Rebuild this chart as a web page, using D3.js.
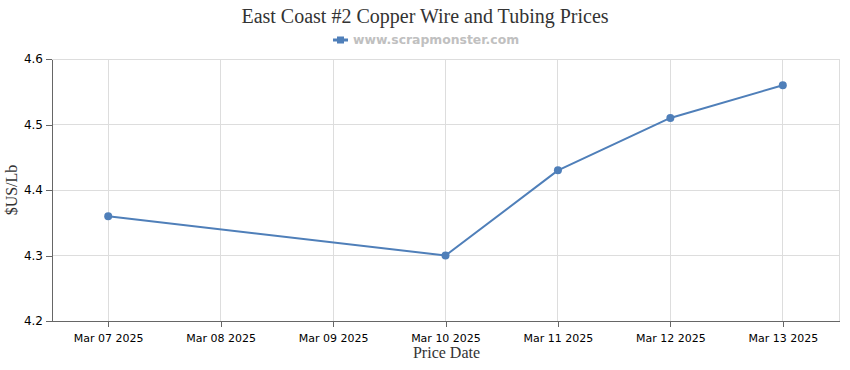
<!DOCTYPE html>
<html>
<head>
<meta charset="utf-8">
<script src="https://cdn.jsdelivr.net/npm/d3@7"></script>
<style>
  body { margin: 0; background: #fff; }
  svg { display: block; }
</style>
</head>
<body>
<svg id="chart"></svg>
<script>
// data
const dates = ['2025-03-07', '2025-03-10', '2025-03-11', '2025-03-12', '2025-03-13'];
const prices = [4.36, 4.30, 4.43, 4.51, 4.56];
const tickDates = ['2025-03-07', '2025-03-08', '2025-03-09', '2025-03-10', '2025-03-11', '2025-03-12', '2025-03-13'];
const yTicks = [4.2, 4.3, 4.4, 4.5, 4.6];
const titleText = 'East Coast #2 Copper Wire and Tubing Prices';
const legendText = 'www.scrapmonster.com';

const width = 850, height = 370;
const margins = { top: 59, bottom: 49, left: 52, right: 11 };
const lineColor = '#4f7fb9';

const parse = d3.utcParse('%Y-%m-%d');
const fmt = d3.utcFormat('%b %d %Y');
const data = dates.map((d, i) => ({ date: parse(d), value: prices[i] }));

const svg = d3.select('#chart').attr('width', width).attr('height', height);

const x = d3.scaleUtc()
  .domain([d3.utcHour.offset(parse(tickDates[0]), -12), d3.utcHour.offset(parse(tickDates[tickDates.length - 1]), 12)])
  .range([margins.left, width - margins.right]);
const y = d3.scaleLinear()
  .domain([4.2, 4.6])
  .range([height - margins.bottom, margins.top]);

// grid
svg.append('g')
  .selectAll('line.h')
  .data(yTicks)
  .join('line')
  .attr('x1', margins.left).attr('x2', width - margins.right)
  .attr('y1', d => y(d)).attr('y2', d => y(d))
  .attr('stroke', '#dddddd').attr('stroke-width', 1)
  .attr('shape-rendering', 'crispEdges');
svg.append('g')
  .selectAll('line.v')
  .data(tickDates.map(parse))
  .join('line')
  .attr('x1', d => x(d)).attr('x2', d => x(d))
  .attr('y1', margins.top).attr('y2', height - margins.bottom)
  .attr('stroke', '#dddddd').attr('stroke-width', 1)
  .attr('shape-rendering', 'crispEdges');
svg.append('line')
  .attr('x1', width - margins.right).attr('x2', width - margins.right)
  .attr('y1', margins.top).attr('y2', height - margins.bottom)
  .attr('stroke', '#dddddd')
  .attr('shape-rendering', 'crispEdges');

// axes
const xAxis = d3.axisBottom(x).tickValues(tickDates.map(parse)).tickFormat(fmt).tickSize(6).tickSizeOuter(0);
const yAxis = d3.axisLeft(y).tickValues(yTicks).tickFormat(d3.format('.1f')).tickSize(6).tickSizeOuter(0);

const gx = svg.append('g')
  .attr('transform', `translate(0,${height - margins.bottom})`)
  .call(xAxis);
const gy = svg.append('g')
  .attr('transform', `translate(${margins.left},0)`)
  .call(yAxis);

[gx, gy].forEach(g => {
  g.selectAll('path, line').attr('stroke', '#666').attr('shape-rendering', 'crispEdges');
  g.selectAll('text')
    .attr('fill', '#000')
    .attr('font-family', 'Tahoma, "DejaVu Sans", sans-serif')
    .attr('font-size', '11px');
});
gx.selectAll('text').attr('dy', '1.05em');
gy.selectAll('text').attr('dy', '0.32em').attr('font-size', '12px');

// axis titles
svg.append('text')
  .attr('x', (margins.left + width - margins.right) / 2 + 1)
  .attr('y', 358)
  .attr('text-anchor', 'middle')
  .attr('font-family', '"Liberation Serif", "Times New Roman", serif')
  .attr('font-size', '16px')
  .attr('fill', '#333')
  .text('Price Date');
svg.append('text')
  .attr('transform', `translate(17,${(margins.top + height - margins.bottom) / 2}) rotate(-90)`)
  .attr('text-anchor', 'middle')
  .attr('font-family', '"Liberation Serif", "Times New Roman", serif')
  .attr('font-size', '16px')
  .attr('fill', '#333')
  .text('$US/Lb');

// title
svg.append('text')
  .attr('x', 425)
  .attr('y', 23)
  .attr('text-anchor', 'middle')
  .attr('font-family', '"Liberation Serif", "Times New Roman", serif')
  .attr('font-size', '20px')
  .attr('fill', '#333')
  .text(titleText);

// legend
const lg = svg.append('g').attr('transform', 'translate(333,40)');
lg.append('line')
  .attr('x1', 0).attr('x2', 15)
  .attr('stroke', lineColor).attr('stroke-width', 3);
lg.append('rect')
  .attr('x', 4).attr('y', -3.5).attr('width', 7).attr('height', 7)
  .attr('fill', lineColor);
lg.append('text')
  .attr('x', 20)
  .attr('dy', '0.35em')
  .attr('font-family', 'Verdana, "DejaVu Sans", sans-serif')
  .attr('font-size', '12.4px')
  .attr('font-weight', 'bold')
  .attr('fill', '#c0c0c0')
  .text(legendText);

// series
const line = d3.line()
  .x(d => x(d.date))
  .y(d => y(d.value));

svg.append('path')
  .datum(data)
  .attr('fill', 'none')
  .attr('stroke', lineColor)
  .attr('stroke-width', 2)
  .attr('stroke-linejoin', 'round')
  .attr('d', line);

svg.append('g')
  .selectAll('circle')
  .data(data)
  .join('circle')
  .attr('cx', d => x(d.date))
  .attr('cy', d => y(d.value))
  .attr('r', 4)
  .attr('fill', lineColor);
</script>
</body>
</html>
